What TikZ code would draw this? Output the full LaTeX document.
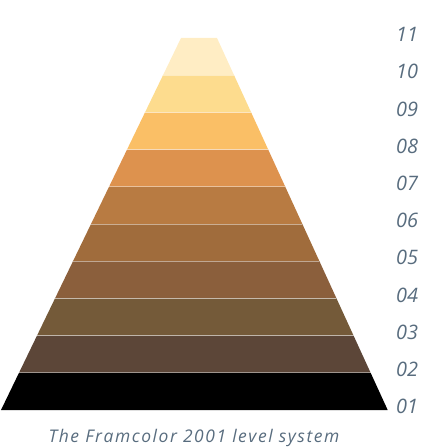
\documentclass[tikz,border=0pt]{standalone}
\usepackage{fontspec}
\setmainfont{Open Sans}
\definecolor{lbl}{HTML}{586C7E}
\definecolor{c1}{HTML}{FFEDC4}
\definecolor{c2}{HTML}{FDDC8E}
\definecolor{c3}{HTML}{FABF66}
\definecolor{c4}{HTML}{DD924E}
\definecolor{c5}{HTML}{B87B42}
\definecolor{c6}{HTML}{A06C3C}
\definecolor{c7}{HTML}{8B5F3C}
\definecolor{c8}{HTML}{745A39}
\definecolor{c9}{HTML}{5C4638}
\definecolor{c10}{HTML}{000000}
\tikzset{
  lvl/.style={text=lbl, font=\fontsize{20}{20}\selectfont\itshape, anchor=west, inner sep=0pt},
  captext/.style={text=lbl, font=\fontsize{17.5}{18}\selectfont\itshape\addfontfeatures{LetterSpace=9}, anchor=base, inner sep=0pt},
  sepline/.style={draw=white, draw opacity=0.45, line width=0.7pt}
}
\begin{document}
\begin{tikzpicture}[x=1bp,y=-1bp]
\useasboundingbox (0,0) rectangle (420,448);
\foreach \i in {1,...,10}{
  \pgfmathsetmacro{\ya}{38+37.2*(\i-1)}
  \pgfmathsetmacro{\yb}{38+37.2*\i}
  \pgfmathsetmacro{\xla}{181-18*(\i-1)}
  \pgfmathsetmacro{\xlb}{181-18*\i}
  \pgfmathsetmacro{\xra}{217+17.07*(\i-1)}
  \pgfmathsetmacro{\xrb}{217+17.07*\i}
  \fill[c\i] (\xla,\ya) -- (\xra,\ya) -- (\xrb,\yb) -- (\xlb,\yb) -- cycle;
}
\foreach \i in {1,...,9}{
  \pgfmathsetmacro{\yb}{38+37.2*\i}
  \pgfmathsetmacro{\xlb}{181-18*\i}
  \pgfmathsetmacro{\xrb}{217+17.07*\i}
  \draw[sepline] (\xlb,\yb) -- (\xrb,\yb);
}
\foreach \n [count=\k from 0] in {11,10,09,08,07,06,05,04,03,02,01}{
  \node[lvl] (l\n) at (396,{34.5+37.2*\k}) {\n};
}
\node[captext] (caption) at (194,442) {The Framcolor 2001 level system};
\end{tikzpicture}
\end{document}
